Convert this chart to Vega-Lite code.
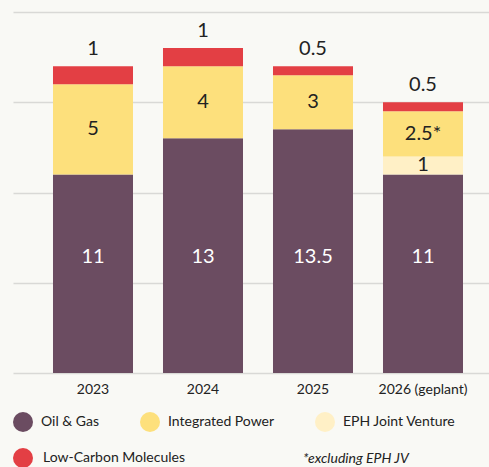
{
  "$schema": "https://vega.github.io/schema/vega-lite/v6.json",
  "width": 476,
  "height": 361,
  "autosize": {"type": "none"},
  "padding": {"left": 13, "top": 12, "right": 0, "bottom": 94},
  "background": "#f9f9f5",
  "config": {"font": "Lato", "view": {"stroke": null}},
  "layer": [
    {
      "data": {
        "values": [
          {"year": "2023", "category": "Oil & Gas", "value": 11, "label": "11"},
          {"year": "2023", "category": "Integrated Power", "value": 5, "label": "5"},
          {"year": "2023", "category": "Low-Carbon Molecules", "value": 1, "label": "1"},
          {"year": "2024", "category": "Oil & Gas", "value": 13, "label": "13"},
          {"year": "2024", "category": "Integrated Power", "value": 4, "label": "4"},
          {"year": "2024", "category": "Low-Carbon Molecules", "value": 1, "label": "1"},
          {"year": "2025", "category": "Oil & Gas", "value": 13.5, "label": "13.5"},
          {"year": "2025", "category": "Integrated Power", "value": 3, "label": "3"},
          {"year": "2025", "category": "Low-Carbon Molecules", "value": 0.5, "label": "0.5"},
          {"year": "2026 (geplant)", "category": "Oil & Gas", "value": 11, "label": "11"},
          {"year": "2026 (geplant)", "category": "EPH Joint Venture", "value": 1, "label": "1"},
          {"year": "2026 (geplant)", "category": "Integrated Power", "value": 2.5, "label": "2.5*"},
          {"year": "2026 (geplant)", "category": "Low-Carbon Molecules", "value": 0.5, "label": "0.5"}
        ]
      },
      "transform": [
        {"calculate": "indexof(['Oil & Gas','EPH Joint Venture','Integrated Power','Low-Carbon Molecules'], datum.category)", "as": "ord"},
        {"calculate": "datum.category", "as": "category2"},
        {"stack": "value", "groupby": ["year"], "sort": [{"field": "ord", "order": "ascending"}], "as": ["v0", "v1"]},
        {"calculate": "(datum.v0 + datum.v1) / 2", "as": "mid"}
      ],
      "encoding": {
        "x": {
          "field": "year",
          "type": "nominal",
          "sort": ["2023", "2024", "2025", "2026 (geplant)"],
          "scale": {"paddingInner": 0.2727, "paddingOuter": 0.3, "align": 0.606},
          "axis": {
            "title": null,
            "labelAngle": 0,
            "ticks": false,
            "domain": false,
            "labelPadding": 9,
            "labelFontSize": 14,
            "labelColor": "#222222",
            "labelFont": "Lato"
          }
        }
      },
      "layer": [
        {
          "mark": {"type": "bar", "strokeWidth": 0},
          "encoding": {
            "y": {
              "field": "v0",
              "type": "quantitative",
              "scale": {"domain": [0, 20], "nice": false},
              "axis": {
                "title": null,
                "labels": false,
                "ticks": false,
                "domain": false,
                "values": [0, 5, 10, 15, 20],
                "gridColor": "#d9d9d6",
                "gridWidth": 1.5
              }
            },
            "y2": {"field": "v1"},
            "fill": {
              "field": "category",
              "type": "nominal",
              "scale": {
                "domain": ["Oil & Gas", "Integrated Power", "EPH Joint Venture", "Low-Carbon Molecules"],
                "range": ["#6b4c61", "#fde07c", "#fff0c6", "#e33f44"]
              },
              "legend": {
                "title": null,
                "orient": "bottom",
                "direction": "horizontal",
                "values": ["Oil & Gas", "Integrated Power", "EPH Joint Venture"],
                "columnPadding": 40,
                "symbolType": "circle",
                "symbolSize": 400,
                "symbolOpacity": 1,
                "symbolStrokeWidth": 0,
                "labelFontSize": 14,
                "labelColor": "#222222",
                "labelOffset": 8,
                "labelLimit": 300,
                "offset": 16,
                "padding": 0
              }
            },
            "stroke": {
              "field": "category2",
              "type": "nominal",
              "scale": {
                "domain": ["Oil & Gas", "Integrated Power", "EPH Joint Venture", "Low-Carbon Molecules"],
                "range": ["#6b4c61", "#fde07c", "#fff0c6", "#e33f44"]
              },
              "legend": {
                "title": null,
                "orient": "none",
                "legendX": 0,
                "legendY": 436,
                "direction": "horizontal",
                "values": ["Low-Carbon Molecules"],
                "symbolType": "circle",
                "symbolSize": 400,
                "symbolOpacity": 1,
                "symbolStrokeWidth": 0,
                "symbolFillColor": "#e33f44",
                "labelFontSize": 14,
                "labelColor": "#222222",
                "labelOffset": 10,
                "labelLimit": 300,
                "padding": 0,
                "encode": {"symbols": {"update": {"fill": {"value": "#e33f44"}, "strokeWidth": {"value": 0}}}}
              }
            }
          }
        },
        {
          "transform": [{"filter": "datum.category == 'Integrated Power' || datum.category == 'EPH Joint Venture'"}],
          "mark": {"type": "text", "fontSize": 20, "color": "#222222", "baseline": "middle"},
          "encoding": {
            "y": {"field": "mid", "type": "quantitative"},
            "text": {"field": "label"}
          }
        },
        {
          "transform": [{"filter": "datum.category == 'Oil & Gas'"}],
          "mark": {"type": "text", "fontSize": 20, "color": "#ffffff", "baseline": "middle"},
          "encoding": {
            "y": {"datum": 6.4},
            "text": {"field": "label"}
          }
        },
        {
          "transform": [{"filter": "datum.category == 'Low-Carbon Molecules'"}],
          "mark": {"type": "text", "fontSize": 20, "color": "#222222", "baseline": "alphabetic", "dy": -11},
          "encoding": {
            "y": {"field": "v1", "type": "quantitative"},
            "text": {"field": "label"}
          }
        }
      ]
    },
    {
      "data": {"values": [{"note": "*excluding EPH JV"}]},
      "mark": {"type": "text", "fontSize": 14, "fontStyle": "italic", "color": "#222222", "align": "left", "baseline": "middle", "dx": -10},
      "encoding": {
        "x": {"datum": "2025"},
        "y": {"datum": -4.76},
        "text": {"field": "note"}
      }
    }
  ]
}
